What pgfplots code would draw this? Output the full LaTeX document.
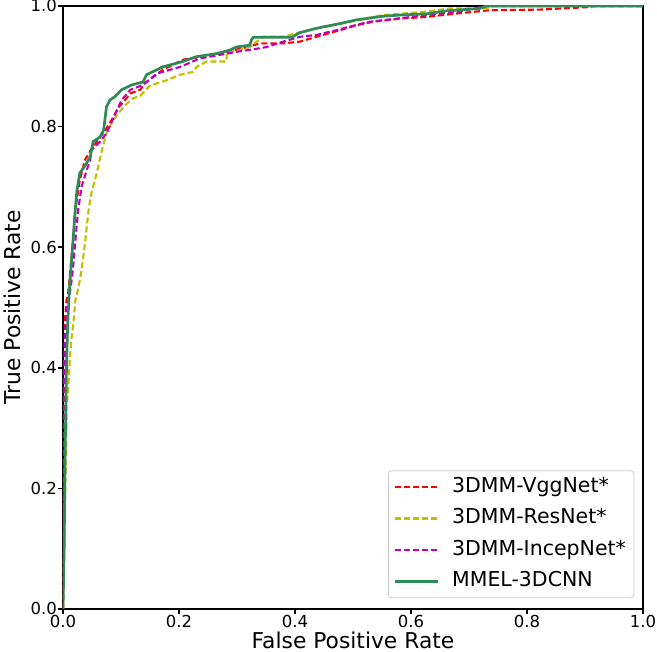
\documentclass[border=0pt]{standalone}
\usepackage{pgfplots}
\pgfplotsset{compat=1.18}
\usepackage{fontspec}
\setmainfont{DejaVu Sans}
\definecolor{cred}{rgb}{1,0,0}
\definecolor{cyel}{rgb}{0.75,0.75,0}
\definecolor{cmag}{rgb}{0.75,0,0.75}
\definecolor{cgrn}{RGB}{46,139,87}
\begin{document}
\begin{tikzpicture}
\begin{axis}[
  at={(0pt,0pt)}, anchor=south west,
  scale only axis, width=580pt, height=603pt,
  xmin=0, xmax=1, ymin=0, ymax=1,
  xtick={0,0.2,0.4,0.6,0.8,1.0}, ytick={0,0.2,0.4,0.6,0.8,1.0},
  xticklabels={0.0,0.2,0.4,0.6,0.8,1.0},
  yticklabels={0.0,0.2,0.4,0.6,0.8,1.0},
  tick align=outside, tick pos=left,
  major tick length=5pt,
  every tick/.style={black, line width=1.5pt},
  axis line style={line width=1.8pt},
  ticklabel style={font=\fontsize{16.5}{19}\selectfont, inner sep=1pt},
  xlabel={False Positive Rate}, ylabel={True Positive Rate},
  label style={font=\fontsize{21.8}{25}\selectfont, inner sep=0pt},
  xlabel style={at={(axis description cs:0.5,-0.0647)}, anchor=base},
  ylabel style={at={(axis description cs:-0.0741,0.5)}, anchor=base, rotate=0},
  legend cell align=left,
  legend image code/.code={\draw[#1] (0pt,0pt) -- (43pt,0pt);},
  legend style={at={(rel axis cs:0.985,0.018)}, anchor=south east,
    draw=gray!40, line width=0.8pt, rounded corners=3pt,
    font=\fontsize{20.5}{23}\selectfont,
    inner xsep=5pt, inner ysep=4pt, row sep=7pt,
    nodes={inner sep=3pt, text height=14.5pt, text depth=4pt},
    /tikz/every odd column/.append style={column sep=10pt}},
  clip=true,
]
\addplot[cred, line width=2.1pt, dash pattern=on 6pt off 3pt] coordinates {
(0,0)(0.001,0.1)(0.002,0.21)(0.003,0.35)(0.003,0.474)(0.006,0.512)(0.009,0.524)(0.017,0.607)(0.021,0.661)(0.029,0.711)(0.038,0.745)(0.052,0.767)(0.061,0.778)(0.075,0.797)(0.087,0.816)(0.095,0.831)(0.107,0.844)(0.116,0.855)(0.133,0.861)(0.141,0.872)(0.172,0.894)(0.207,0.911)(0.241,0.916)(0.282,0.924)(0.31,0.93)(0.34,0.938)(0.38,0.938)(0.409,0.941)(0.437,0.949)(0.478,0.96)(0.506,0.968)(0.535,0.974)(0.581,0.979)(0.627,0.982)(0.684,0.988)(0.736,0.993)(0.822,0.994)(0.903,0.998)(0.917,1.0)(1,1)};
\addlegendentry{3DMM-VggNet*}
\addplot[cyel, line width=2.1pt, dash pattern=on 6pt off 3pt] coordinates {
(0,0)(0.002,0.1)(0.004,0.2)(0.006,0.296)(0.006,0.335)(0.009,0.363)(0.012,0.418)(0.015,0.451)(0.018,0.474)(0.021,0.51)(0.027,0.535)(0.032,0.562)(0.038,0.607)(0.044,0.661)(0.049,0.690)(0.058,0.722)(0.067,0.761)(0.075,0.789)(0.087,0.811)(0.098,0.825)(0.110,0.838)(0.121,0.847)(0.133,0.851)(0.15,0.868)(0.179,0.877)(0.202,0.886)(0.225,0.891)(0.23,0.899)(0.248,0.908)(0.282,0.908)(0.282,0.922)(0.305,0.927)(0.322,0.932)(0.345,0.949)(0.38,0.949)(0.403,0.955)(0.437,0.963)(0.466,0.968)(0.512,0.977)(0.541,0.983)(0.552,0.985)(0.62,0.99)(0.667,0.996)(0.736,0.996)(0.74,1.0)(1,1)};
\addlegendentry{3DMM-ResNet*}
\addplot[cmag, line width=2.1pt, dash pattern=on 6pt off 3pt] coordinates {
(0,0)(0.001,0.2)(0.001,0.363)(0.003,0.446)(0.006,0.496)(0.012,0.524)(0.017,0.562)(0.021,0.607)(0.026,0.661)(0.032,0.700)(0.041,0.728)(0.047,0.745)(0.049,0.761)(0.064,0.775)(0.075,0.789)(0.084,0.808)(0.093,0.827)(0.101,0.844)(0.116,0.861)(0.138,0.869)(0.162,0.888)(0.202,0.899)(0.236,0.913)(0.271,0.919)(0.299,0.924)(0.34,0.93)(0.351,0.932)(0.38,0.941)(0.409,0.949)(0.437,0.952)(0.472,0.96)(0.495,0.966)(0.529,0.974)(0.575,0.979)(0.655,0.988)(0.679,0.99)(0.73,1.0)(1,1)};
\addlegendentry{3DMM-IncepNet*}
\addplot[cgrn, line width=2.7pt] coordinates {
(0,0)(0.002,0.10)(0.003,0.2)(0.004,0.28)(0.006,0.40)(0.008,0.47)(0.011,0.53)(0.017,0.607)(0.021,0.661)(0.024,0.694)(0.029,0.723)(0.038,0.735)(0.047,0.750)(0.052,0.775)(0.064,0.783)(0.070,0.794)(0.075,0.833)(0.081,0.844)(0.090,0.850)(0.101,0.861)(0.118,0.869)(0.138,0.874)(0.144,0.886)(0.172,0.899)(0.207,0.908)(0.230,0.916)(0.265,0.921)(0.288,0.927)(0.299,0.932)(0.322,0.935)(0.325,0.944)(0.328,0.948)(0.394,0.948)(0.409,0.956)(0.437,0.963)(0.478,0.971)(0.506,0.977)(0.552,0.983)(0.581,0.985)(0.627,0.987)(0.662,0.992)(0.719,0.996)(0.730,1.0)(1.0,1.0)};
\addlegendentry{MMEL-3DCNN}
\end{axis}
\pgfresetboundingbox
\path[use as bounding box] (-63pt,-43pt) rectangle (594pt,609pt);
\end{tikzpicture}
\end{document}
